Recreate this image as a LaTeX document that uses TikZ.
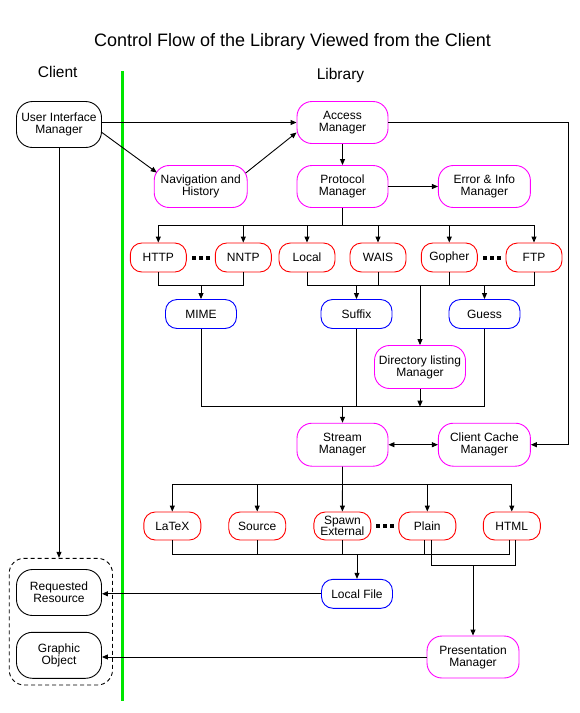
\documentclass[tikz,border=0pt]{standalone}
\usepackage{fontspec}
\setmainfont{Liberation Sans}
\usetikzlibrary{arrows.meta,calc}
\definecolor{mag}{RGB}{255,0,255}
\definecolor{rd}{RGB}{255,0,0}
\definecolor{bl}{RGB}{0,0,255}
\definecolor{grn}{RGB}{0,230,0}
\tikzset{
 box/.style={draw, rounded corners=15pt, line width=0.9pt, minimum width=91pt, minimum height=42pt, inner sep=0pt, align=center, font=\fontsize{12}{12}\selectfont},
 small/.style={box, rounded corners=11.5pt, minimum width=56pt, minimum height=29pt},
 mgr/.style={box, draw=mag},
 proto/.style={small, draw=rd},
 typ/.style={small, draw=bl, minimum width=71pt},
 cli/.style={box, draw=black, minimum width=85pt, minimum height=46pt, rounded corners=16pt},
 conn/.style={line width=0.9pt, line cap=rect},
 arr/.style={line width=0.9pt, -{Triangle[length=6pt,width=5pt]}},
 darr/.style={line width=0.9pt, {Triangle[length=6pt,width=5pt]}-{Triangle[length=6pt,width=5pt]}},
 dots/.style={fill=black},
}
\begin{document}
\begin{tikzpicture}[x=1pt,y=-1pt]
\fill[white] (0,0) rectangle (579,713);
\useasboundingbox (0,0) rectangle (579,713);
% headings
\node[anchor=base, font=\fontsize{18}{18}\selectfont] (title) at (292.5,46.7) {Control Flow of the Library Viewed from the Client};
\node[anchor=base, font=\fontsize{15.5}{16}\selectfont] (client) at (57.7,77.3) {Client};
\node[anchor=base, font=\fontsize{15.5}{16}\selectfont] (library) at (340.5,79) {Library};
% separator
\draw[grn, line width=3pt] (122.9,71) -- (122.9,701);
% nodes
\node[cli] (UIM) at (59,124.5) {User Interface\\Manager};
\node[mgr] (Access) at (342.5,122.5) {Access\\Manager};
\node[mgr, minimum width=93pt] (Nav) at (200.7,186.5) {Navigation and\\History};
\node[mgr] (Protocol) at (342.5,186.5) {Protocol\\Manager};
\node[mgr, minimum width=92pt] (Error) at (484.4,186.5) {Error \& Info\\Manager};
\node[proto] (HTTP) at (158.3,257.5) {HTTP};
\node[proto] (NNTP) at (243.3,257.5) {NNTP};
\node[proto] (Local) at (307,257.5) {Local};
\node[proto] (WAIS) at (378,257.5) {WAIS};
\node[proto] (Gopher) at (449.3,257.5) {Gopher};
\node[proto] (FTP) at (534,257.5) {FTP};
\node[typ] (MIME) at (201,314) {MIME};
\node[typ] (Suffix) at (356.5,314) {Suffix};
\node[typ] (Guess) at (484.5,314) {Guess};
\node[mgr, minimum height=43pt] (Dir) at (420,367) {Directory listing\\Manager};
\node[mgr, minimum height=43pt] (Stream) at (342.5,444.7) {Stream\\Manager};
\node[mgr, minimum width=92pt, minimum height=43pt] (Cache) at (484.4,444.7) {Client Cache\\Manager};
\node[proto, minimum width=57pt, minimum height=28pt] (LaTeX) at (172.3,526) {LaTeX};
\node[proto, minimum width=57pt, minimum height=28pt] (Source) at (257.2,526) {Source};
\node[proto, minimum width=57pt, minimum height=28pt, font=\fontsize{12}{11.5}\selectfont] (Spawn) at (342.4,526) {Spawn\\External};
\node[proto, minimum width=57pt, minimum height=28pt] (Plain) at (427.3,526) {Plain};
\node[proto, minimum width=57pt, minimum height=28pt] (HTML) at (511.8,526) {HTML};
\node[typ] (LocalFile) at (357,593.8) {Local File};
\node[cli, font=\fontsize{12}{10}\selectfont] (Req) at (59,592.5) {Requested\\Resource};
\node[cli, font=\fontsize{12}{10}\selectfont] (Graph) at (59,655.3) {Graphic\\Object};
\node[mgr, minimum width=92pt] (Pres) at (473,657) {Presentation\\Manager};
\node[draw, dash pattern=on 4pt off 3pt, rounded corners=15pt, line width=0.9pt, minimum width=103.3pt, minimum height=126.7pt, inner sep=0pt] (grp) at (60.85,621.65) {};
% dots
\coordinate (d1) at ($(HTTP.east)!0.5!(NNTP.west)$);
\coordinate (d2) at ($(Gopher.east)!0.5!(FTP.west)$);
\coordinate (d3) at ($(Spawn.east)!0.5!(Plain.west)$);
\foreach \d in {d1,d2,d3}{
  \foreach \dx in {-7,0,7}{
    \fill[dots] ($(\d)+(\dx-2,-2)$) rectangle +(4,4);
  }
}
% connectors
\draw[arr] (UIM.east |- Access.west) -- (Access.west);
\draw[arr] ($(UIM.east)+(0,8)$) -- ($(Nav.north west)+(3,7.5)$);
\draw[arr] ($(Nav.north east)+(-2,8)$) -- ($(Access.west)+(0,10)$);
\draw[arr] (Access.south) -- (Protocol.north);
\coordinate (R) at (568,0);
\draw[arr] (Access.east) -| (R |- Cache.east) -- (Cache.east);
\draw[arr] (Protocol.east) -- (Error.west);
\coordinate (pb) at (0,225);
\draw[conn] (Protocol.south) -- (Protocol.south |- pb);
\draw[conn] (HTTP.north |- pb) -- (FTP.north |- pb);
\foreach \n in {HTTP,NNTP,Local,WAIS,Gopher,FTP} \draw[arr] (\n.north |- pb) -- (\n.north);
\coordinate (jp) at (0,285);
\draw[conn] (HTTP.south) -- (HTTP.south |- jp) -- (NNTP.south |- jp) -- (NNTP.south);
\draw[arr] (MIME.north |- jp) -- (MIME.north);
\draw[conn] (Local.south) -- (Local.south |- jp) -- (FTP.south |- jp) -- (FTP.south);
\draw[conn] (WAIS.south) -- (WAIS.south |- jp);
\draw[conn] (Gopher.south) -- (Gopher.south |- jp);
\draw[arr] (Suffix.north |- jp) -- (Suffix.north);
\draw[arr] (Dir.north |- jp) -- (Dir.north);
\draw[arr] (Guess.north |- jp) -- (Guess.north);
\coordinate (js) at (0,406.7);
\draw[conn] (MIME.south) -- (MIME.south |- js) -- (Guess.south |- js) -- (Guess.south);
\draw[conn] (Suffix.south) -- (Suffix.south |- js);
\draw[arr] (Dir.south) -- (Dir.south |- js);
\draw[arr] (Stream.north |- js) -- (Stream.north);
\draw[darr] (Stream.east) -- (Cache.west);
\coordinate (fb) at (0,484.3);
\draw[arr] (Stream.south) -- (Spawn.north);
\draw[conn] (LaTeX.north |- fb) -- (HTML.north |- fb);
\foreach \n in {LaTeX,Source,Plain,HTML} \draw[arr] (\n.north |- fb) -- (\n.north);
\coordinate (jf) at (0,554.3);
\draw[conn] (LaTeX.south) -- (LaTeX.south |- jf) -- ($(HTML.south |- jf)+(-2.6,0)$) -- ($(HTML.south)+(-2.6,0)$);
\draw[conn] (Source.south) -- (Source.south |- jf);
\draw[conn] (Spawn.south) -- (Spawn.south |- jf);
\draw[conn] ($(Plain.south)+(-3,0)$) -- ($(Plain.south |- jf)+(-3,0)$);
\draw[arr] (LocalFile.north |- jf) -- (LocalFile.north);
\coordinate (jg) at (0,565.7);
\draw[conn] ($(Plain.south)+(3.7,0)$) -- ($(Plain.south |- jg)+(3.7,0)$) -- ($(HTML.south |- jg)+(3.7,0)$) -- ($(HTML.south)+(3.7,0)$);
\draw[arr] (Pres.north |- jg) -- (Pres.north);
\draw[arr] (LocalFile.west) -- (Req.east |- LocalFile.west);
\draw[arr] (Pres.west) -- (Graph.east |- Pres.west);
\draw[arr] (UIM.south) -- (UIM.south |- grp.north);
\end{tikzpicture}
\end{document}
